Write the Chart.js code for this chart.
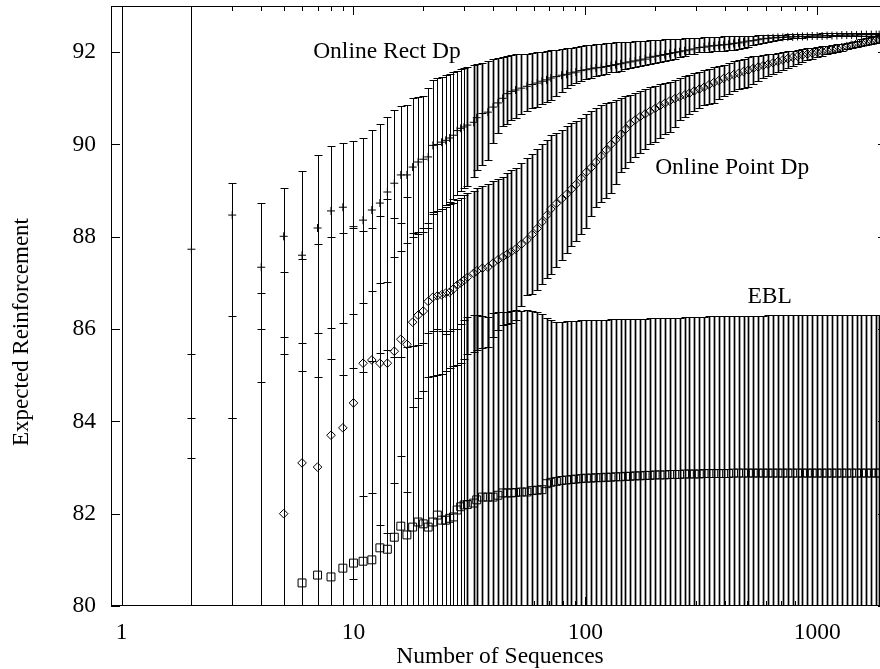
<!DOCTYPE html>
<html lang="en">

<head>
    <meta charset="UTF-8">
    <title>Expected Reinforcement vs Number of Sequences</title>
    <style>
        body {
            margin: 0;
            overflow: hidden;
            background-color: #ffffff;
        }

        /* the plot box runs a few pixels past the right edge of the window, as in the original */
        #chartContainer {
            width: 887px;
            height: 669px;
        }
    </style>
    <script src="https://cdn.jsdelivr.net/npm/chart.js"></script>
</head>

<body>
    <div id="chartContainer">
        <canvas id="erChart" width="887" height="669"></canvas>
    </div>

    <script>
        // number of sequences at which each point was measured
        const sequences = [
            1, 2, 3, 4, 5, 6, 7, 8, 9, 10,
            11, 12, 13, 14, 15, 16, 17, 18, 19, 20,
            21, 22, 23, 24, 25, 26, 27, 28, 29, 30,
            31, 33, 34, 36, 38, 40, 42, 44, 46, 48,
            50, 53, 56, 59, 62, 65, 68, 71, 75, 79,
            83, 87, 91, 96, 101, 106, 111, 117, 123, 129,
            135, 142, 149, 156, 164, 172, 181, 190, 200, 210,
            220, 231, 243, 255, 268, 281, 295, 310, 325, 341,
            358, 376, 395, 415, 436, 458, 481, 505, 530, 557,
            585, 614, 645, 677, 711, 747, 784, 823, 864, 907,
            952, 1000, 1050, 1103, 1158, 1216, 1277, 1341, 1408, 1478,
            1552, 1630, 1711, 1797, 1850
        ];

        // Online Rect Dp
        const rectMean = [
            75, 87.73, 88.47, 87.34, 88.01, 87.6, 88.19, 88.56, 88.64, 88.22,
            88.36, 88.58, 88.73, 88.97, 89.16, 89.34, 89.34, 89.51, 89.62, 89.68,
            89.73, 89.98, 90.0, 90.05, 90.09, 90.14, 90.2, 90.3, 90.35, 90.38,
            90.42, 90.48, 90.58, 90.67, 90.7, 90.81, 90.9, 91.0, 91.1, 91.15,
            91.18, 91.22, 91.26, 91.3, 91.33, 91.37, 91.4, 91.44, 91.47, 91.5,
            91.52, 91.55, 91.57, 91.6, 91.62, 91.64, 91.66, 91.67, 91.69, 91.71,
            91.73, 91.75, 91.77, 91.79, 91.81, 91.83, 91.85, 91.89, 91.91, 91.93,
            91.95, 91.97, 91.99, 92.01, 92.03, 92.05, 92.07, 92.1, 92.11, 92.13,
            92.14, 92.15, 92.16, 92.17, 92.19, 92.2, 92.22, 92.24, 92.25, 92.27,
            92.29, 92.3, 92.31, 92.32, 92.32, 92.33, 92.33, 92.34, 92.34, 92.34,
            92.35, 92.35, 92.35, 92.36, 92.36, 92.36, 92.37, 92.37, 92.37, 92.37,
            92.38, 92.38, 92.38, 92.38, 92.38
        ];
        const rectLow = [
            65, 83.2, 84.07, 84.85, 85.46, 85.09, 84.96, 85.35, 85.0, 85.15,
            85.07, 85.3, 85.48, 85.54, 85.39, 87.7, 87.86, 88.0, 88.05, 88.1,
            88.2, 88.5, 88.55, 88.6, 88.68, 88.75, 88.82, 88.9, 89.0, 89.05,
            89.1, 89.3, 89.45, 89.55, 89.66, 90.03, 90.25, 90.4, 90.45, 90.52,
            90.58, 90.65, 90.72, 90.78, 90.82, 90.87, 90.92, 90.96, 91.05, 91.13,
            91.22, 91.28, 91.33, 91.38, 91.42, 91.45, 91.48, 91.5, 91.53, 91.56,
            91.58, 91.6, 91.63, 91.65, 91.67, 91.7, 91.72, 91.74, 91.76, 91.78,
            91.8, 91.83, 91.86, 91.89, 91.92, 91.95, 91.97, 92.0, 92.01, 92.01,
            92.02, 92.03, 92.03, 92.04, 92.04, 92.06, 92.09, 92.12, 92.15, 92.18,
            92.2, 92.22, 92.24, 92.26, 92.28, 92.29, 92.3, 92.3, 92.31, 92.32,
            92.32, 92.33, 92.33, 92.33, 92.34, 92.34, 92.34, 92.35, 92.35, 92.35,
            92.35, 92.36, 92.36, 92.36, 92.36
        ];
        const rectHigh = [
            95, 94, 89.16, 88.73, 89.05, 89.42, 89.77, 89.96, 90.03, 90.08,
            90.15, 90.32, 90.44, 90.59, 90.75, 90.83, 90.85, 91.0, 91.03, 91.06,
            91.22, 91.4, 91.44, 91.46, 91.5, 91.53, 91.56, 91.6, 91.63, 91.66,
            91.67, 91.72, 91.74, 91.77, 91.81, 91.85, 91.88, 91.9, 91.92, 91.93,
            91.95, 91.96, 91.97, 91.98, 92.0, 92.0, 92.02, 92.04, 92.05, 92.07,
            92.09, 92.1, 92.12, 92.14, 92.15, 92.16, 92.17, 92.18, 92.19, 92.2,
            92.21, 92.21, 92.22, 92.23, 92.24, 92.25, 92.25, 92.26, 92.27, 92.27,
            92.28, 92.28, 92.29, 92.29, 92.3, 92.3, 92.31, 92.31, 92.32, 92.32,
            92.33, 92.33, 92.34, 92.34, 92.35, 92.35, 92.36, 92.36, 92.36, 92.37,
            92.37, 92.37, 92.38, 92.38, 92.38, 92.39, 92.39, 92.39, 92.4, 92.4,
            92.4, 92.4, 92.41, 92.41, 92.41, 92.41, 92.41, 92.42, 92.42, 92.42,
            92.42, 92.42, 92.42, 92.42, 92.42
        ];

        // Online Point Dp
        const pointMean = [
            70, 75, 77, 79, 82.0, 83.1, 83.01, 83.7, 83.86, 84.4,
            85.26, 85.33, 85.26, 85.26, 85.52, 85.78, 85.67, 86.15, 86.3, 86.39,
            86.6, 86.69, 86.72, 86.74, 86.78, 86.8, 86.87, 86.95, 87.0, 87.06,
            87.12, 87.21, 87.26, 87.32, 87.34, 87.43, 87.5, 87.56, 87.62, 87.68,
            87.73, 87.84, 87.93, 88.05, 88.18, 88.32, 88.46, 88.6, 88.72, 88.82,
            88.92, 89.03, 89.13, 89.27, 89.4, 89.5, 89.62, 89.75, 89.88, 90.0,
            90.1, 90.22, 90.33, 90.45, 90.53, 90.6, 90.66, 90.72, 90.78, 90.84,
            90.89, 90.94, 90.99, 91.03, 91.07, 91.11, 91.16, 91.2, 91.24, 91.29,
            91.34, 91.38, 91.43, 91.47, 91.51, 91.54, 91.58, 91.61, 91.65, 91.68,
            91.71, 91.74, 91.77, 91.8, 91.83, 91.86, 91.89, 91.91, 91.94, 91.96,
            91.98, 92.0, 92.02, 92.04, 92.06, 92.08, 92.1, 92.12, 92.15, 92.18,
            92.2, 92.22, 92.24, 92.26, 92.27
        ];
        const pointLow = [
            60, 65, 70, 72, 74, 75, 76, 77, 78, 80.58,
            82.38, 82.45, 81.75, 81.58, 82.66, 83.25, 82.47, 84.31, 84.5, 84.66,
            84.96, 84.98, 85.0, 85.02, 85.1, 85.15, 85.2, 85.22, 85.26, 85.35,
            85.45, 85.5, 85.54, 85.59, 85.61, 85.83, 85.98, 86.09, 86.11, 86.13,
            86.2, 86.5, 86.74, 86.77, 86.85, 86.98, 87.1, 87.2, 87.35, 87.5,
            87.65, 87.8, 87.9, 88.05, 88.2, 88.45, 88.65, 88.75, 88.85, 88.95,
            89.15, 89.4, 89.5, 89.62, 89.72, 89.81, 89.9, 90.0, 90.05, 90.15,
            90.22, 90.28, 90.38, 90.52, 90.6, 90.66, 90.72, 90.8, 90.85, 90.88,
            90.9, 90.98, 91.05, 91.1, 91.15, 91.2, 91.22, 91.25, 91.3, 91.37,
            91.43, 91.48, 91.52, 91.57, 91.62, 91.66, 91.7, 91.75, 91.79, 91.83,
            91.86, 91.89, 91.92, 91.95, 91.98, 92.01, 92.03, 92.06, 92.09, 92.11,
            92.13, 92.15, 92.17, 92.19, 92.2
        ];
        const pointHigh = [
            79, 85.46, 86.28, 86.78, 87.23, 87.52, 87.84, 87.99, 88.08, 88.18,
            88.12, 88.19, 88.45, 88.82, 88.4, 88.3, 88.86, 88.08, 88.1, 88.2,
            88.3, 88.53, 88.56, 88.6, 88.64, 88.7, 88.74, 88.8, 88.85, 88.9,
            88.94, 89.0, 89.05, 89.1, 89.15, 89.2, 89.25, 89.3, 89.38, 89.45,
            89.5, 89.6, 89.7, 89.8, 89.9, 90.0, 90.1, 90.2, 90.24, 90.32,
            90.4, 90.46, 90.5, 90.58, 90.65, 90.72, 90.79, 90.85, 90.89, 90.93,
            90.96, 91.0, 91.04, 91.07, 91.12, 91.16, 91.2, 91.24, 91.27, 91.3,
            91.33, 91.36, 91.4, 91.45, 91.48, 91.51, 91.55, 91.58, 91.61, 91.64,
            91.67, 91.7, 91.73, 91.77, 91.8, 91.83, 91.86, 91.89, 91.91, 91.92,
            91.94, 91.95, 91.97, 91.99, 92.0, 92.02, 92.03, 92.05, 92.06, 92.08,
            92.1, 92.11, 92.13, 92.14, 92.16, 92.17, 92.18, 92.2, 92.22, 92.25,
            92.28, 92.3, 92.33, 92.36, 92.37
        ];

        // EBL
        const eblMean = [
            70, 74, 76, 78, 79.5, 80.5, 80.67, 80.63, 80.82, 80.93,
            80.97, 81.0, 81.26, 81.23, 81.49, 81.73, 81.54, 81.71, 81.82, 81.78,
            81.71, 81.82, 81.97, 81.86, 81.86, 81.9, 81.93, 82.08, 82.15, 82.19,
            82.2, 82.23, 82.3, 82.36, 82.36, 82.36, 82.4, 82.45, 82.45, 82.45,
            82.46, 82.47, 82.47, 82.5, 82.51, 82.52, 82.65, 82.68, 82.7, 82.72,
            82.73, 82.74, 82.75, 82.76, 82.77, 82.77, 82.78, 82.78, 82.79, 82.79,
            82.8, 82.8, 82.81, 82.81, 82.82, 82.82, 82.83, 82.83, 82.84, 82.84,
            82.84, 82.85, 82.85, 82.85, 82.86, 82.86, 82.86, 82.86, 82.87, 82.87,
            82.87, 82.87, 82.87, 82.87, 82.88, 82.88, 82.88, 82.88, 82.88, 82.88,
            82.88, 82.88, 82.88, 82.88, 82.88, 82.88, 82.88, 82.88, 82.88, 82.88,
            82.88, 82.88, 82.88, 82.88, 82.88, 82.88, 82.88, 82.88, 82.88, 82.88,
            82.88, 82.88, 82.88, 82.88, 82.88
        ];
        const eblLow = [
            60, 64, 67, 71, 73.5, 75.9, 76.4, 75.9, 76.6, 76.7,
            76.9, 76.7, 77.0, 76.9, 77.6, 78.1, 77.5, 77.8, 78.0, 77.9,
            77.5, 77.7, 77.9, 77.8, 77.8, 77.9, 77.9, 78.2, 78.2, 78.2,
            78.1, 78.2, 78.3, 78.4, 78.5, 78.4, 78.4, 78.5, 78.5, 78.5,
            78.5, 78.5, 78.5, 78.6, 78.6, 78.7, 79.0, 79.2, 79.2, 79.3,
            79.3, 79.3, 79.3, 79.3, 79.4, 79.3, 79.4, 79.4, 79.4, 79.4,
            79.4, 79.4, 79.4, 79.4, 79.4, 79.4, 79.4, 79.4, 79.4, 79.4,
            79.4, 79.46, 79.46, 79.46, 79.46, 79.46, 79.46, 79.46, 79.46, 79.46,
            79.46, 79.46, 79.46, 79.46, 79.46, 79.46, 79.46, 79.46, 79.46, 79.46,
            79.46, 79.46, 79.46, 79.46, 79.46, 79.46, 79.46, 79.46, 79.46, 79.46,
            79.46, 79.46, 79.46, 79.46, 79.46, 79.46, 79.46, 79.46, 79.46, 79.46,
            79.46, 79.46, 79.46, 79.46, 79.46
        ];
        const eblHigh = [
            79, 84.07, 84.07, 86.0, 85.83, 85.7, 85.91, 86.02, 86.13, 86.32,
            86.56, 86.82, 87.0, 87.02, 87.56, 85.39, 85.61, 85.63, 85.65, 85.7,
            85.91, 85.95, 86.0, 85.95, 85.9, 85.95, 86.0, 86.0, 86.1, 86.2,
            86.26, 86.3, 86.3, 86.28, 86.26, 86.35, 86.36, 86.37, 86.38, 86.4,
            86.41, 86.4, 86.42, 86.4, 86.38, 86.32, 86.25, 86.2, 86.15, 86.16,
            86.17, 86.18, 86.18, 86.19, 86.19, 86.2, 86.2, 86.2, 86.2, 86.21,
            86.21, 86.21, 86.21, 86.22, 86.22, 86.22, 86.22, 86.23, 86.23, 86.23,
            86.24, 86.24, 86.25, 86.25, 86.26, 86.26, 86.27, 86.27, 86.27, 86.28,
            86.28, 86.28, 86.28, 86.29, 86.29, 86.29, 86.29, 86.29, 86.29, 86.29,
            86.29, 86.3, 86.3, 86.3, 86.3, 86.3, 86.3, 86.3, 86.3, 86.3,
            86.3, 86.3, 86.3, 86.3, 86.3, 86.3, 86.3, 86.3, 86.3, 86.3,
            86.3, 86.3, 86.3, 86.3, 86.3
        ];

        // axes
        const xTickValues = [1, 2, 3, 4, 5, 6, 7, 8, 9, 10, 20, 30, 40, 50, 60, 70, 80, 90,
            100, 200, 300, 400, 500, 600, 700, 800, 900, 1000, 2000];
        const xLabelValues = [1, 10, 100, 1000];
        const yTickValues = [80, 82, 84, 86, 88, 90, 92];

        // text written next to the curves, anchored in data coordinates
        const curveNames = ['Online Rect Dp', 'Online Point Dp', 'EBL'];
        const curveNameAt = [[6.7, 92.0], [200, 89.5], [500, 86.7]];

        const serif = '"Liberation Serif", "DejaVu Serif", serif';
        const fontSize = 23.5;

        function toPoints(values) {
            return sequences.map((n, i) => ({ x: n, y: values[i] }));
        }

        const bands = [
            { low: rectLow, high: rectHigh },
            { low: pointLow, high: pointHigh },
            { low: eblLow, high: eblHigh }
        ];

        // vertical error bars with small caps, drawn under the markers
        const errorBars = {
            id: 'errorBars',
            beforeDatasetsDraw(chart) {
                const { ctx, chartArea: a, scales: { x, y } } = chart;
                const cap = 4;
                ctx.save();
                ctx.beginPath();
                ctx.rect(a.left, a.top, a.right - a.left, a.bottom - a.top);
                ctx.clip();
                ctx.strokeStyle = '#000';
                bands.forEach(band => {
                    sequences.forEach((n, i) => {
                        const px = Math.round(x.getPixelForValue(n)) + 0.5;
                        const lo = Math.round(y.getPixelForValue(band.low[i])) + 0.5;
                        const hi = Math.round(y.getPixelForValue(band.high[i])) + 0.5;
                        // the crowded bars further right merge into a grey wash
                        ctx.lineWidth = n > 30 ? 1.7 : 1;
                        ctx.beginPath();
                        ctx.moveTo(px, lo);
                        ctx.lineTo(px, hi);
                        ctx.stroke();
                        ctx.lineWidth = 1;
                        ctx.beginPath();
                        ctx.moveTo(px - cap, lo);
                        ctx.lineTo(px + cap, lo);
                        ctx.moveTo(px - cap, hi);
                        ctx.lineTo(px + cap, hi);
                        ctx.stroke();
                    });
                });
                ctx.restore();
            }
        };

        // box, inward ticks, axis titles and curve names
        const frame = {
            id: 'frame',
            afterDraw(chart) {
                const { ctx, chartArea: a, scales: { x, y } } = chart;
                ctx.save();
                ctx.strokeStyle = '#000';
                ctx.lineWidth = 1;
                ctx.strokeRect(a.left + 0.5, a.top + 0.5, a.right - a.left - 1, a.bottom - a.top - 1);

                ctx.beginPath();
                xTickValues.forEach(v => {
                    const px = Math.round(x.getPixelForValue(v)) + 0.5;
                    const len = xLabelValues.includes(v) ? 9 : 5;
                    ctx.moveTo(px, a.bottom);
                    ctx.lineTo(px, a.bottom - len);
                    ctx.moveTo(px, a.top);
                    ctx.lineTo(px, a.top + len);
                });
                yTickValues.forEach(v => {
                    const py = Math.round(y.getPixelForValue(v)) + 0.5;
                    ctx.moveTo(a.left, py);
                    ctx.lineTo(a.left + 9, py);
                    ctx.moveTo(a.right, py);
                    ctx.lineTo(a.right - 9, py);
                });
                ctx.stroke();

                ctx.fillStyle = '#000';
                ctx.font = fontSize + 'px ' + serif;
                ctx.textBaseline = 'middle';
                ctx.textAlign = 'left';
                curveNames.forEach((name, i) => {
                    ctx.fillText(name, x.getPixelForValue(curveNameAt[i][0]), y.getPixelForValue(curveNameAt[i][1]));
                });

                ctx.textAlign = 'center';
                ctx.fillText('Number of Sequences', 500, 657);

                ctx.translate(22, 332);
                ctx.rotate(-Math.PI / 2);
                ctx.font = '23px ' + serif;
                ctx.fillText('Expected Reinforcement', 0, 0);
                ctx.restore();
            }
        };

        const markerStyle = {
            borderColor: '#000',
            backgroundColor: 'rgba(0,0,0,0)',
            borderWidth: 1,
            showLine: false
        };

        new Chart(document.getElementById('erChart'), {
            type: 'scatter',
            data: {
                datasets: [
                    { label: 'Online Rect Dp', data: toPoints(rectMean), pointStyle: 'cross', pointRadius: 4, ...markerStyle },
                    { label: 'Online Point Dp', data: toPoints(pointMean), pointStyle: 'rectRot', pointRadius: 4.3, ...markerStyle },
                    { label: 'EBL', data: toPoints(eblMean), pointStyle: 'rect', pointRadius: 5.6, ...markerStyle }
                ]
            },
            options: {
                responsive: false,
                animation: false,
                layout: { autoPadding: false, padding: { top: 6, right: 0, left: 0, bottom: 0 } },
                plugins: {
                    legend: { display: false },
                    tooltip: { enabled: false }
                },
                scales: {
                    x: {
                        type: 'logarithmic',
                        min: 0.9,
                        max: 2000,
                        afterBuildTicks: scale => {
                            scale.ticks = xTickValues.map(v => ({ value: v }));
                        },
                        afterFit: scale => {
                            scale.height = 63;
                            scale.paddingLeft = 0;
                            scale.paddingRight = 0;
                        },
                        grid: { display: false, drawTicks: false },
                        border: { display: false },
                        ticks: {
                            autoSkip: false,
                            maxRotation: 0,
                            padding: 13,
                            color: '#000',
                            font: { family: serif, size: fontSize },
                            callback: value => xLabelValues.includes(value) ? String(value) : ''
                        }
                    },
                    y: {
                        min: 80,
                        max: 93,
                        afterBuildTicks: scale => {
                            scale.ticks = yTickValues.map(v => ({ value: v }));
                        },
                        afterFit: scale => {
                            scale.width = 111;
                            scale.paddingTop = 0;
                            scale.paddingBottom = 0;
                        },
                        grid: { display: false, drawTicks: false },
                        border: { display: false },
                        ticks: {
                            padding: 15,
                            color: '#000',
                            font: { family: serif, size: fontSize }
                        }
                    }
                }
            },
            plugins: [errorBars, frame]
        });
    </script>

</body>

</html>
